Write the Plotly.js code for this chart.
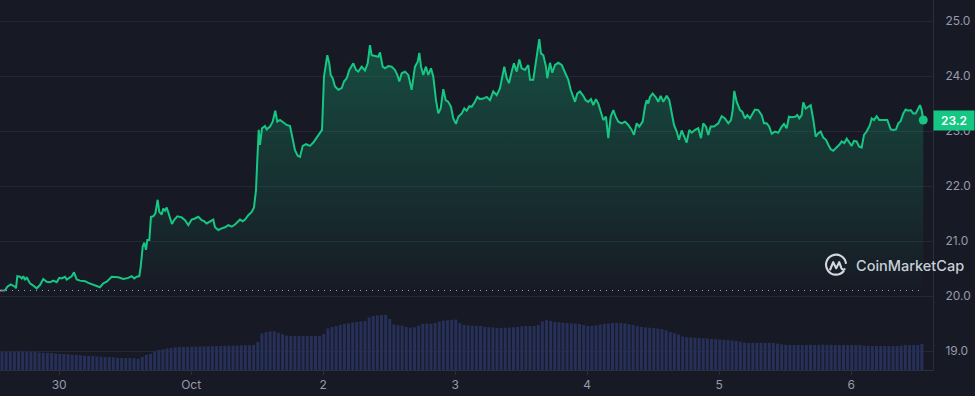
<!DOCTYPE html>
<html>
<head>
<meta charset="utf-8">
<script src="https://cdn.plot.ly/plotly-3.0.1.min.js"></script>
<style>html,body{margin:0;padding:0;background:#171924;}#chart{width:975px;height:396px;}</style>
</head>
<body>
<div id="chart"></div>
<script>
// ---------- DATA ----------
const startTime = '2024-09-29T13:15:00';
// hours since startTime
const priceHours = [0,0.91,1.33,1.95,2.73,2.91,3.15,3.64,3.95,4.24,4.55,4.85,5.45,6.05,6.67,7.27,7.87,8.49,9.09,9.69,10.31,10.78,11.22,11.82,12.13,12.73,13.04,13.45,13.95,14.55,15.45,16.05,16.96,17.58,18.18,18.78,19.40,20.31,20.91,21.51,22.42,23.33,23.95,24.42,24.85,25.33,25.58,25.95,26.24,26.55,26.78,27.15,27.45,27.87,28.24,28.67,28.96,29.40,29.69,30.00,30.31,30.73,31.27,31.64,32.24,33.04,33.64,34.24,34.85,35.45,36.05,36.67,37.09,37.58,38.18,38.78,39.09,39.69,40.31,40.91,41.51,42.13,42.73,43.15,43.64,44.13,44.55,45.15,45.76,46.18,46.55,46.78,47.04,47.27,47.64,48.18,48.49,49.09,49.58,50.05,50.42,50.91,51.51,52.13,52.73,53.22,53.64,54.13,54.55,55.04,55.64,56.36,56.96,57.58,58.18,58.55,58.91,59.27,59.51,59.87,60.13,60.49,60.91,61.51,62.13,62.55,63.04,63.51,63.95,64.24,64.73,65.15,65.76,66.36,66.85,67.27,67.58,68.18,68.78,69.09,69.58,70.00,70.60,71.22,71.82,72.24,72.60,73.04,73.64,74.24,74.85,75.45,75.95,76.24,76.55,76.96,77.45,77.87,78.36,78.78,79.27,79.69,80.13,80.60,81.04,81.51,82.00,82.42,82.91,83.33,83.95,84.42,84.85,85.33,85.76,86.36,86.78,87.27,87.87,88.49,89.09,89.69,90.31,90.91,91.40,91.69,92.13,92.55,93.04,93.45,93.95,94.42,94.85,95.45,96.05,96.36,96.96,97.27,97.69,98.05,98.36,98.78,99.27,99.51,100.00,100.42,100.91,101.51,102.13,102.73,103.33,103.76,104.24,104.55,104.96,105.45,106.05,106.49,106.96,107.45,107.87,108.36,108.78,109.22,109.69,110.18,110.60,111.04,111.51,111.95,112.42,113.04,113.64,114.24,114.85,115.27,115.76,116.24,116.85,117.27,117.58,117.87,118.18,118.67,119.27,119.69,120.13,120.60,121.22,121.69,122.13,122.55,123.04,123.45,123.95,124.42,124.85,125.33,125.76,126.36,126.96,127.45,127.87,128.36,128.78,129.22,129.82,130.60,131.22,131.82,132.42,132.91,133.22,133.51,133.95,134.55,134.96,135.45,135.87,136.36,136.85,137.27,137.87,138.49,138.91,139.40,139.87,140.31,140.91,141.51,142.13,142.55,143.04,143.45,143.95,144.55,144.96,145.33,145.76,146.05,146.49,146.96,147.40,147.87,148.31,148.78,149.22,149.69,150.18,150.60,151.04,151.51,152.13,152.60,153.04,153.51,153.95,154.42,154.85,155.27,155.76,156.18,156.67,157.09,157.58,158.18,158.49,158.91,159.40,159.87,160.60,161.33,161.95,162.42,162.91,163.33,163.76,164.24,164.67,165.15,165.58,166.05,166.49,166.96,167.27,167.58,167.87];
const prices = [20.10,20.10,20.17,20.21,20.17,20.14,20.36,20.35,20.32,20.36,20.29,20.34,20.23,20.19,20.14,20.20,20.31,20.26,20.25,20.28,20.25,20.33,20.32,20.35,20.30,20.34,20.36,20.43,20.30,20.28,20.27,20.24,20.21,20.19,20.16,20.23,20.26,20.35,20.34,20.34,20.31,20.33,20.36,20.32,20.35,20.36,20.53,20.90,20.97,20.84,21.02,21.02,21.44,21.45,21.50,21.75,21.53,21.48,21.59,21.55,21.61,21.49,21.31,21.38,21.45,21.43,21.38,21.29,21.39,21.41,21.44,21.38,21.36,21.32,21.35,21.39,21.25,21.20,21.23,21.25,21.29,21.26,21.30,21.35,21.39,21.36,21.39,21.47,21.53,21.61,21.93,22.47,23.02,22.75,23.05,23.09,23.03,23.08,23.17,23.37,23.17,23.20,23.15,23.11,23.09,22.87,22.65,22.55,22.53,22.73,22.76,22.73,22.79,22.88,22.96,23.02,23.99,24.29,24.38,24.23,24.02,23.96,23.81,23.75,23.78,23.90,23.96,24.11,24.17,24.23,24.11,24.08,24.17,24.10,24.23,24.56,24.38,24.36,24.35,24.43,24.17,24.14,24.18,24.17,24.11,24.02,23.90,24.05,24.08,24.02,23.75,24.17,24.26,24.42,24.17,24.02,24.17,24.02,24.14,23.99,23.56,23.32,23.41,23.76,23.56,23.53,23.44,23.23,23.13,23.26,23.32,23.41,23.37,23.45,23.44,23.53,23.62,23.58,23.59,23.62,23.56,23.72,23.65,23.78,23.99,24.17,23.96,23.87,24.08,24.23,24.08,24.30,24.14,24.11,24.20,23.93,23.93,24.14,24.35,24.67,24.41,24.38,24.17,23.96,24.24,24.06,24.20,24.24,24.20,24.08,23.93,23.75,23.59,23.53,23.68,23.72,23.64,23.56,23.53,23.58,23.47,23.58,23.50,23.35,23.20,23.26,22.87,23.26,23.38,23.26,23.17,23.14,23.17,23.11,23.02,22.93,23.14,23.08,23.17,23.44,23.56,23.50,23.62,23.68,23.61,23.53,23.64,23.53,23.64,23.56,23.29,23.11,22.99,22.84,23.01,22.90,22.79,23.02,22.97,23.02,23.05,22.87,23.14,23.08,22.93,23.08,23.08,23.14,23.27,23.23,23.14,23.20,23.38,23.73,23.53,23.38,23.35,23.23,23.29,23.23,23.32,23.39,23.38,23.29,23.14,23.14,23.08,22.95,22.99,22.97,23.08,23.13,23.05,23.26,23.25,23.26,23.29,23.23,23.29,23.52,23.41,23.44,23.47,23.21,22.90,22.96,22.99,22.88,22.84,22.75,22.67,22.64,22.70,22.75,22.81,22.78,22.86,22.78,22.73,22.82,22.81,22.72,22.70,22.93,22.99,23.11,23.23,23.20,23.27,23.20,23.20,23.20,23.03,23.02,23.03,23.14,23.18,23.32,23.39,23.37,23.38,23.32,23.32,23.41,23.47,23.38,23.20];

// volume bars (45-minute buckets), in $M
const volumeStart = '2024-09-29T13:37:00';
const volumeStepMinutes = 45;
const volumes = [18.3,18.3,18.4,18.5,18.6,18.6,18.5,18.3,18.2,17.5,
17.3,17.2,17.0,16.3,16.0,16.0,15.8,15.2,15.0,14.8,
14.2,14.0,14.0,13.6,13.2,13.0,13.0,12.8,12.2,12.0,
12.0,12.0,11.8,11.2,13.0,15.2,16.2,18.6,20.0,20.7,
21.6,22.0,22.7,23.0,23.1,23.2,23.3,23.4,23.5,23.6,
23.7,23.8,24.0,24.0,24.2,24.3,24.4,24.5,24.6,24.7,
24.9,25.2,28.0,36.5,37.8,38.6,38.8,37.0,35.8,34.4,
34.0,34.0,34.0,34.0,34.0,34.0,34.0,34.0,36.0,41.5,
43.0,44.0,45.0,46.0,46.7,47.4,48.0,48.5,49.0,52.5,
54.0,54.6,55.0,55.0,51.0,45.6,44.8,44.4,43.0,42.4,
42.6,44.3,46.0,46.5,46.3,47.2,48.3,49.3,49.8,50.2,
50.5,46.8,45.0,44.7,44.4,44.2,44.0,43.0,42.8,42.5,
42.2,42.0,42.3,42.6,42.8,43.0,43.8,44.0,44.0,44.0,
45.0,48.5,49.8,49.0,48.0,47.7,47.3,47.0,46.7,46.4,
46.0,45.0,44.0,44.0,44.6,45.4,46.1,46.5,47.0,47.0,
47.0,46.6,45.8,45.0,43.8,43.0,42.6,42.3,42.0,41.5,
41.0,39.7,38.0,36.8,35.5,33.5,32.8,32.5,32.3,32.0,
31.8,31.5,31.1,30.8,30.5,30.2,29.9,29.5,29.1,28.3,
27.5,27.0,27.0,27.0,27.0,27.0,27.0,27.0,26.4,25.8,
25.2,25.0,25.0,25.0,25.0,25.0,25.2,25.0,25.0,25.4,
25.0,25.2,25.0,25.0,25.0,25.0,25.0,25.0,25.0,24.4,
24.0,24.0,24.0,24.0,24.0,24.0,24.0,24.0,24.3,25.0,
25.0,25.0,25.0,26.0];

const xTickDates = ['2024-09-30','2024-10-01','2024-10-02','2024-10-03','2024-10-04','2024-10-05','2024-10-06'];
const xTickLabels = ['30','Oct','2','3','4','5','6'];
const yTickValues = [19,20,21,22,23,24,25];
const yTickLabels = ['19.0','20.0','21.0','22.0','23.0','24.0','25.0'];
const viewEndHours = 169.64;

// ---------- HELPERS ----------
function shift(base, minutes){
  const ms = Date.parse(base + 'Z') + minutes * 60000;
  return new Date(ms).toISOString().slice(0,19).replace('T',' ');
}
const priceTimes = priceHours.map(h => shift(startTime, h*60));
const volTimes = volumes.map((v,i) => shift(volumeStart, i*volumeStepMinutes));
const lastIdx = prices.length - 1;

const GREEN = '#16c784';
const BG = '#171924';
const TICKC = '#959bad';
const FONT = 'Inter, "Noto Sans", sans-serif';

const traces = [
  { type:'bar', x: volTimes, y: volumes, xaxis:'x', yaxis:'y',
    marker:{color:'#263058', line:{width:0}}, hoverinfo:'skip' },
  { type:'scatter', mode:'lines', x: priceTimes.slice(0,2), y: prices.slice(0,2), xaxis:'x', yaxis:'y2',
    line:{color:'#7c8190', width:2}, hoverinfo:'skip' },
  { type:'scatter', mode:'lines', x: priceTimes.slice(1), y: prices.slice(1), xaxis:'x', yaxis:'y2',
    line:{color:GREEN, width:2}, fill:'tozeroy',
    fillgradient:{type:'vertical', start:20.0, stop:24.7,
      colorscale:[[0,'rgba(22,199,132,0)'],[0.35,'rgba(22,199,132,0.11)'],[1,'rgba(22,199,132,0.30)']]},
    hoverinfo:'skip' },
  { type:'scatter', mode:'markers', x:[priceTimes[lastIdx]], y:[prices[lastIdx]], xaxis:'x', yaxis:'y2',
    marker:{color:GREEN, size:9}, hoverinfo:'skip' }
];

const logoSvg = "<svg xmlns='http://www.w3.org/2000/svg' viewBox='0 0 24 24'>" +
  "<path d='M19.6 18.2 A10 10 0 1 1 21.9 10' fill='none' stroke='#d6d8df' stroke-width='2.1' stroke-linecap='round'/>" +
  "<path d='M6.2 16.5 L9.2 9.2 L12.2 15.2 L15.2 9.2 L17.4 15.2 Q18.4 17.2 20.6 16.2' fill='none' stroke='#d6d8df' stroke-width='2.1' stroke-linecap='round' stroke-linejoin='round'/></svg>";

const layout = {
  width:975, height:396,
  margin:{l:0, r:42, t:0, b:26, pad:0},
  paper_bgcolor:BG, plot_bgcolor:BG,
  showlegend:false, bargap:0.28,
  font:{family:FONT, color:TICKC, size:12},
  xaxis:{type:'date', range:[shift(startTime,0), shift(startTime, viewEndHours*60)],
    tickvals:xTickDates, ticktext:xTickLabels, showgrid:false, zeroline:false,
    showline:true, linecolor:'#2b2f3d', linewidth:1, ticks:'outside', ticklen:4, tickcolor:'#2b2f3d',
    tickfont:{family:FONT, size:12, color:TICKC}, fixedrange:true},
  yaxis:{range:[0,370], visible:false, fixedrange:true},
  yaxis2:{overlaying:'y', side:'right', range:[18.655, 25.382],
    tickvals:yTickValues, ticktext:yTickLabels, showgrid:true, gridcolor:'#242733', gridwidth:1,
    zeroline:false, showline:true, linecolor:'#2b2f3d', linewidth:1, ticks:'',
    ticklabelstandoff:9, tickfont:{family:FONT, size:12, color:TICKC}, fixedrange:true},
  shapes:[
    {type:'line', xref:'x', yref:'y2', x0:priceTimes[0], x1:priceTimes[lastIdx], y0:prices[0], y1:prices[0],
     line:{color:'#9ea3b1', width:1, dash:'1px,5px'}, layer:'above'}
  ],
  annotations:[
    {xref:'paper', yref:'y2', x:1, y:prices[lastIdx], xanchor:'left', yanchor:'middle',
     text:prices[lastIdx].toFixed(1), showarrow:false, bgcolor:GREEN, width:36, height:15, borderpad:2,
     font:{family:FONT, size:12, color:'#ffffff', weight:600}},
    {xref:'paper', yref:'paper', x:854/933, y:(370-265)/370, xanchor:'left', yanchor:'middle',
     text:'CoinMarketCap', showarrow:false,
     font:{family:FONT, size:14.5, color:'rgba(222,225,232,0.92)', weight:500}}
  ],
  images:[
    {source:'data:image/svg+xml;charset=utf-8,' + encodeURIComponent(logoSvg),
     xref:'paper', yref:'paper', x:824/933, y:(370-253)/370, sizex:24/933, sizey:24/370,
     xanchor:'left', yanchor:'top', sizing:'contain', layer:'above'}
  ]
};

Plotly.newPlot('chart', traces, layout, {displayModeBar:false, staticPlot:true});
</script>
</body>
</html>
